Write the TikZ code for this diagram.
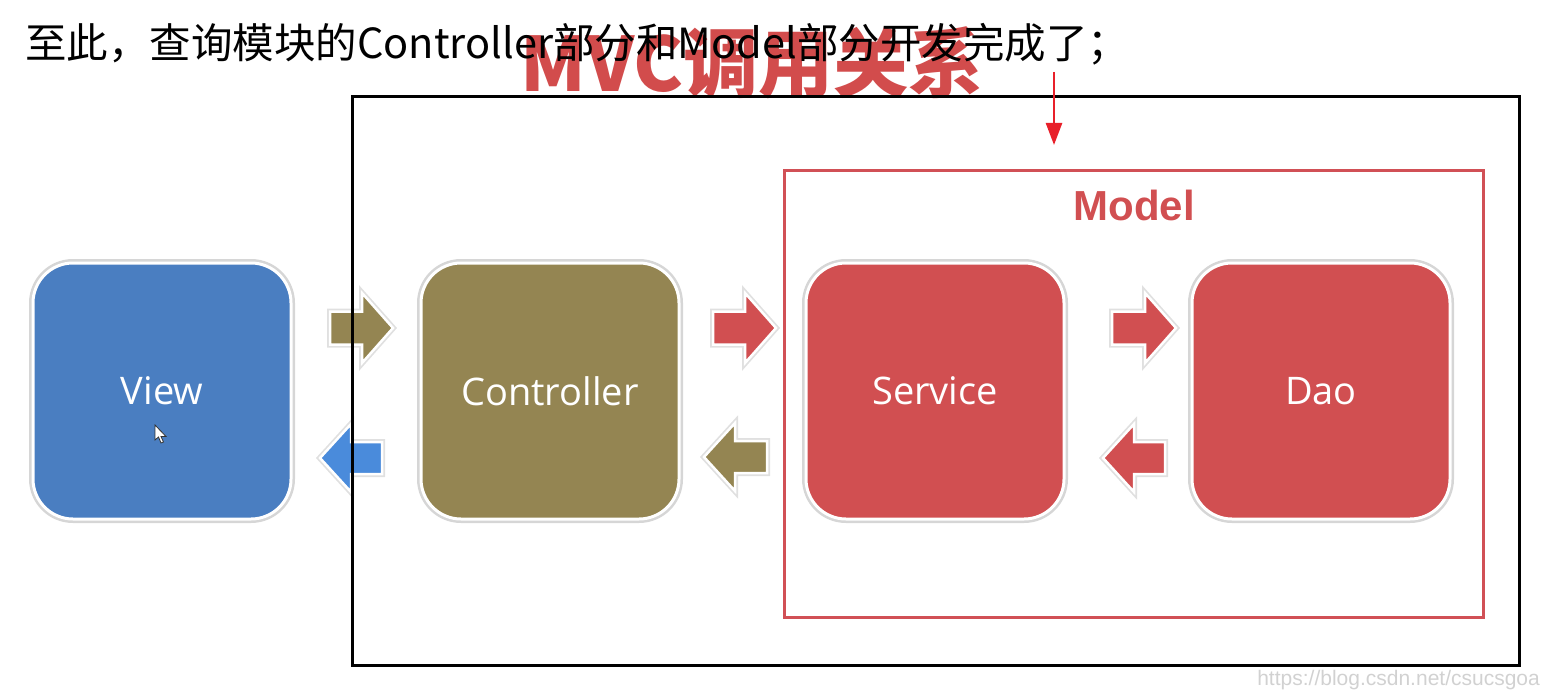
\documentclass[tikz,border=0pt]{standalone}
\usepackage{fontspec}
\usetikzlibrary{arrows.meta}
\newfontfamily\cjk{Noto Sans CJK SC}
\newfontfamily\boxfont{Open Sans}
\newfontfamily\wmfont{Liberation Sans}
\definecolor{viewblue}{HTML}{4A7EC1}
\definecolor{ctrlolive}{HTML}{948552}
\definecolor{modelred}{HTML}{D14F51}
\definecolor{modelline}{HTML}{D15056}
\definecolor{arrowblue}{HTML}{4A8BDB}
\definecolor{titlered}{HTML}{D24C4C}
\definecolor{markred}{HTML}{E8202A}
\tikzset{
  mbox/.style={rectangle, rounded corners=40pt, minimum width=258pt, minimum height=256pt,
    draw=white, line width=3pt, text=white, font=\boxfont\fontsize{38}{44}\selectfont,
    preaction={draw=black!16, line width=8pt}},
  barrow/.style={draw=white, line width=2.5pt, preaction={draw=black!12, line width=6pt}, line join=miter},
  frame/.style={draw=black, line width=3pt},
  modelframe/.style={draw=modelline, line width=3pt},
}
% right arrow: x1 (back), x2 (tip), y centre, colour
\newcommand\myRarrow[4]{%
  \fill[barrow, fill=#4] (#1,#3-16.5) -- (#2-31,#3-16.5) -- (#2-31,#3-35) -- (#2,#3)
    -- (#2-31,#3+35) -- (#2-31,#3+16.5) -- (#1,#3+16.5) -- cycle;}
% left arrow: x1 (tip), x2 (back), y centre, colour
\newcommand\myLarrow[4]{%
  \fill[barrow, fill=#4] (#2,#3-16) -- (#1+31,#3-16) -- (#1+31,#3-34) -- (#1,#3)
    -- (#1+31,#3+34) -- (#1+31,#3+16) -- (#2,#3+16) -- cycle;}
\begin{document}
\begin{tikzpicture}[x=1pt,y=-1pt]
\useasboundingbox (0,0) rectangle (1546,690);
% title
\node[text=titlered, font=\cjk\bfseries\fontsize{75}{82}\selectfont, inner sep=0pt] (title) at (752,63) {MVC调用关系};
% top sentence
\node[anchor=west, font=\cjk\fontsize{41.5}{48}\selectfont, inner sep=0pt] (intro) at (25,44) {至此，查询模块的Controller部分和Model部分开发完成了；};
% boxes
\node[mbox, fill=viewblue] (view) at (162,391) {View};
\node[mbox, fill=ctrlolive] (ctrl) at (550,391) {Controller};
\node[mbox, fill=modelred] (service) at (935,391) {Service};
\node[mbox, fill=modelred] (dao) at (1321,391) {Dao};
% block arrows
\myRarrow{330}{393}{328}{ctrlolive}
\myRarrow{713}{776}{328}{modelred}
\myRarrow{1112}{1176}{328}{modelred}
\myLarrow{320}{382}{458}{arrowblue}
\myLarrow{704}{767}{457}{ctrlolive}
\myLarrow{1103}{1165}{458}{modelred}
% cursor
\filldraw[fill=white, draw=black!80, line width=0.8pt] (155,425) -- (155,440) -- (158.5,437) -- (161,443) -- (163.5,442) -- (161,436.5) -- (166,436.5) -- cycle;
% frames
\node[modelframe, rectangle, minimum width=699pt, minimum height=447pt, inner sep=0pt] (model) at (1133.5,393.5) {};
\node[text=modelred, font=\wmfont\bfseries\fontsize{42}{50}\selectfont, inner sep=0pt] (modellabel) at (1134,205) {Model};
\node[frame, rectangle, minimum width=1167pt, minimum height=568pt, inner sep=0pt] (mvc) at (935.5,381) {};
% red marker arrow
\coordinate (mstart) at (1054,72);
\coordinate (mend) at (1054,145);
\draw[markred, line width=2.5pt, -{Triangle[length=22pt,width=16pt]}] (mstart) -- (mend);
% watermark
\node[anchor=east, text=black!18, font=\wmfont\fontsize{21}{24}\selectfont, inner sep=0pt] (wm) at (1540,680) {https://blog.csdn.net/csucsgoa};
\end{tikzpicture}
\end{document}
